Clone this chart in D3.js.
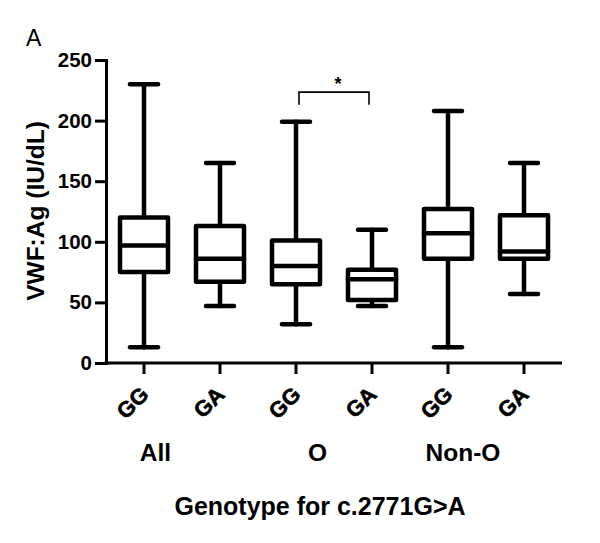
<!DOCTYPE html>
<html>
<head>
<meta charset="utf-8">
<script src="https://d3js.org/d3.v7.min.js"></script>
<style>
  body { margin: 0; background: #fff; }
  text { font-family: "Liberation Sans", Arial, sans-serif; }
</style>
</head>
<body>
<svg id="chart" width="600" height="543"></svg>
<script>
const categories = ["All GG", "All GA", "O GG", "O GA", "Non-O GG", "Non-O GA"];
const tickLabels = ["GG", "GA", "GG", "GA", "GG", "GA"];
const groupLabels = ["All", "O", "Non-O"];
const whiskerMin = [13, 47, 32, 47, 13, 57];
const q1 = [75, 67, 65, 52, 86, 86];
const median = [97, 86, 80, 69, 107, 92];
const q3 = [120, 113, 101, 77, 127, 122];
const whiskerMax = [230, 165, 199, 110, 208, 165];
const yTicks = [0, 50, 100, 150, 200, 250];
const sigPair = ["O GG", "O GA"];
const sigLabel = "*";

const svg = d3.select("#chart");
const mLeft = 106, mRight = 562, mTop = 60, mBottom = 363;

const x = d3.scaleBand().domain(categories).range([mLeft, mRight]).padding(0);
const y = d3.scaleLinear().domain([0, 250]).range([mBottom, mTop]);

// Y axis
const yAxis = d3.axisLeft(y).tickValues(yTicks).tickSize(11).tickPadding(3);
const gy = svg.append("g").attr("transform", `translate(${mLeft},0)`).call(yAxis);
gy.select(".domain").attr("stroke", "#000").attr("stroke-width", 3);
gy.selectAll(".tick line").attr("stroke", "#000").attr("stroke-width", 3);
gy.selectAll(".tick text").attr("fill", "#000").attr("font-size", 20.5).attr("font-weight", "bold")
  .attr("font-family", "Liberation Sans, Arial, sans-serif");

// X axis
const xAxis = d3.axisBottom(x).tickSize(11).tickFormat((d, i) => tickLabels[i]);
const gx = svg.append("g").attr("transform", `translate(0,${mBottom})`).call(xAxis);
gx.select(".domain").attr("stroke", "#000").attr("stroke-width", 3)
  .attr("d", `M${mLeft - 1.5},0H${mRight}`);
gx.selectAll(".tick line").attr("stroke", "#000").attr("stroke-width", 3);
gx.selectAll(".tick text")
  .attr("fill", "#000").attr("font-size", 22).attr("font-weight", "bold")
  .attr("font-family", "Liberation Sans, Arial, sans-serif")
  .attr("stroke", "#000").attr("stroke-width", 0.6)
  .attr("text-anchor", "end")
  .attr("dy", null).attr("y", null)
  .attr("transform", "translate(6,33) rotate(-45)");

// Boxes
const bw = 48, capW = 28;
const g = svg.append("g").attr("stroke", "#000").attr("fill", "none")
  .attr("stroke-width", 4.5).attr("stroke-linejoin", "round").attr("stroke-linecap", "round");
categories.forEach((c, i) => {
  const cx = x(c) + x.bandwidth() / 2;
  g.append("line").attr("x1", cx).attr("x2", cx).attr("y1", y(whiskerMax[i])).attr("y2", y(q3[i]));
  g.append("line").attr("x1", cx).attr("x2", cx).attr("y1", y(q1[i])).attr("y2", y(whiskerMin[i]));
  g.append("line").attr("x1", cx - capW / 2).attr("x2", cx + capW / 2).attr("y1", y(whiskerMax[i])).attr("y2", y(whiskerMax[i]));
  g.append("line").attr("x1", cx - capW / 2).attr("x2", cx + capW / 2).attr("y1", y(whiskerMin[i])).attr("y2", y(whiskerMin[i]));
  g.append("rect").attr("x", cx - bw / 2).attr("width", bw)
    .attr("y", y(q3[i])).attr("height", y(q1[i]) - y(q3[i])).attr("fill", "#fff");
  g.append("line").attr("x1", cx - bw / 2).attr("x2", cx + bw / 2).attr("y1", y(median[i])).attr("y2", y(median[i]));
});

// Significance bracket
const bx1 = x(sigPair[0]) + x.bandwidth() / 2 + 3;
const bx2 = x(sigPair[1]) + x.bandwidth() / 2 - 3;
const byTop = y(223.5), byBot = y(213);
svg.append("path").attr("d", `M${bx1},${byBot}V${byTop}H${bx2}V${byBot}`)
  .attr("fill", "none").attr("stroke", "#000").attr("stroke-width", 1.6);
svg.append("text").attr("x", (bx1 + bx2) / 2 + 4).attr("y", byTop - 2)
  .attr("text-anchor", "middle").attr("font-size", 18).attr("font-weight", "bold").text(sigLabel);

// Group labels
const groupCenters = [155.5, 317.5, 463];
groupLabels.forEach((t, i) => {
  svg.append("text").attr("x", groupCenters[i]).attr("y", 461)
    .attr("text-anchor", "middle").attr("font-size", 24.5).attr("font-weight", "bold").text(t);
});

// Axis titles
svg.append("text").attr("x", 320).attr("y", 515).attr("text-anchor", "middle")
  .attr("font-size", 25).attr("font-weight", "bold").text("Genotype for c.2771G>A");
svg.append("text").attr("transform", "translate(44,211) rotate(-90)").attr("text-anchor", "middle")
  .attr("font-size", 24.5).attr("font-weight", "bold").text("VWF:Ag (IU/dL)");

// Panel label
svg.append("text").attr("x", 26).attr("y", 46).attr("font-size", 23).text("A");
</script>
</body>
</html>
